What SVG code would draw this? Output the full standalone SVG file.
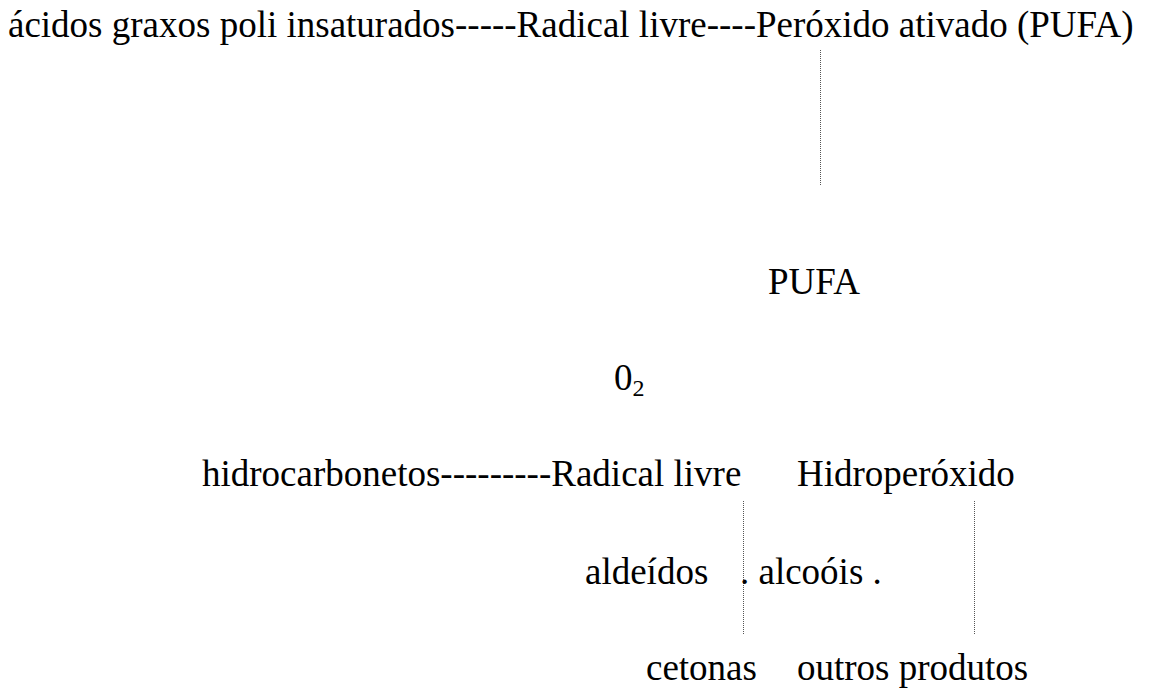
<svg xmlns="http://www.w3.org/2000/svg" width="1153" height="689" viewBox="0 0 1153 689">
<style>
text{font-family:"Liberation Serif","Times New Roman",serif;font-size:37px;fill:#000}
.c{stroke:#555;stroke-width:1;stroke-dasharray:1 1;fill:none}
</style>
<rect width="1153" height="689" fill="#fff"/>
<g id="connectors">
<line class="c" x1="820.5" y1="50" x2="820.5" y2="185"/>
<line class="c" x1="743.5" y1="501" x2="743.5" y2="635"/>
<line class="c" x1="974.5" y1="501" x2="974.5" y2="635"/>
</g>
<g id="n-top"><text x="8" y="37">ácidos graxos poli insaturados-----Radical livre----Peróxido ativado (PUFA)</text></g>
<g id="n-pufa"><text x="768" y="294">PUFA</text></g>
<g id="n-o2"><text x="614" y="390">0<tspan font-size="24" dy="6">2</tspan></text></g>
<g id="n-hidrocarb"><text x="202" y="486">hidrocarbonetos---------Radical livre</text></g>
<g id="n-hidroperox"><text x="797" y="486">Hidroperóxido</text></g>
<g id="n-aldeidos"><text x="585" y="584">aldeídos</text></g>
<g id="n-alcoois"><text x="740" y="584">. alcoóis .</text></g>
<g id="n-cetonas"><text x="646" y="680">cetonas</text></g>
<g id="n-outros"><text x="797" y="680">outros produtos</text></g>
</svg>
